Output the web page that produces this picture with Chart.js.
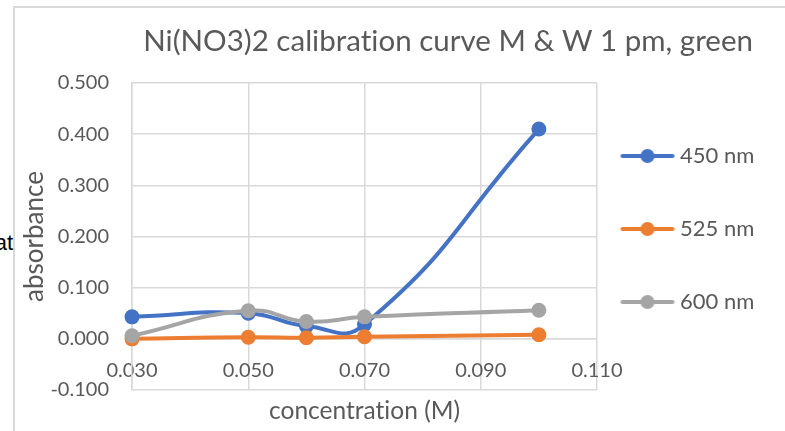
<!DOCTYPE html>
<html>
<head>
<meta charset="utf-8">
<title>Ni(NO3)2 calibration curve</title>
<script src="https://cdn.jsdelivr.net/npm/chart.js@4/dist/chart.umd.min.js"></script>
<style>
  html, body { margin: 0; padding: 0; background: #fff; overflow: hidden; }
  #wrap { position: relative; width: 785px; height: 431px; overflow: hidden; }
  #frame {
    position: absolute; left: 13px; top: 6px; width: 900px; height: 600px;
    border-left: 2px solid #d9d9d9; border-top: 2px solid #d9d9d9;
  }
  #side {
    position: absolute; right: 772px; top: 230px; line-height: 24px;
    font: 22px "Liberation Sans", Arial, sans-serif; color: #000; white-space: nowrap;
  }
  canvas { position: absolute; left: 0; top: 0; }
</style>
</head>
<body>
<div id="wrap">
  <div id="frame"></div>
  <div id="side">at</div>
  <canvas id="calChart" width="785" height="431"></canvas>
</div>
<script>
// measured absorbance per wavelength
const concentration = [0.03, 0.05, 0.06, 0.07, 0.10];
const abs450 = [0.043, 0.050, 0.025, 0.028, 0.410];
const abs525 = [0.000, 0.003, 0.002, 0.004, 0.008];
const abs600 = [0.006, 0.055, 0.034, 0.043, 0.056];
const seriesNames = ['450 nm', '525 nm', '600 nm'];
const xTicks = [0.03, 0.05, 0.07, 0.09, 0.11];
const yTicks = [-0.1, 0, 0.1, 0.2, 0.3, 0.4, 0.5];

const chartTitle = 'Ni(NO3)2 calibration curve M & W 1 pm, green';
const xTitle = 'concentration (M)';
const yTitle = 'absorbance';

const colors = ['#4472C4', '#ED7D31', '#A5A5A5'];
const textColor = '#595959';
const gridColor = '#d9d9d9';

const legendFont = 22;
const legendGap = 51;
const swatchBox = 21;

// line + marker sample for the legend, offset so the line ends just before the text
function legendSwatch(color) {
  const c = document.createElement('canvas');
  c.width = 84;
  c.height = 20;
  const g = c.getContext('2d');
  const end = c.width / 2 + swatchBox / 2 + legendFont / 2 - 5.5;
  const start = end - 54;
  g.strokeStyle = color;
  g.lineWidth = 4;
  g.lineCap = 'round';
  g.beginPath();
  g.moveTo(start + 2, 10);
  g.lineTo(end - 2, 10);
  g.stroke();
  g.fillStyle = color;
  g.beginPath();
  g.arc((start + end) / 2, 10, 7, 0, Math.PI * 2);
  g.fill();
  return c;
}

// keep "ti" etc. as separate letters, and let the legend text run to the canvas edge
const tweaks = {
  id: 'tweaks',
  afterLayout: chart => { chart.legend.right = chart.width; },
  beforeDraw: chart => { chart.ctx.letterSpacing = '0.01px'; }
};

Chart.defaults.font.family = 'Lato, "Noto Sans", sans-serif';
Chart.defaults.color = textColor;

const series = [abs450, abs525, abs600];
const swatches = colors.map(legendSwatch);

const ctx = document.getElementById('calChart').getContext('2d');
new Chart(ctx, {
  type: 'line',
  data: {
    datasets: series.map((vals, i) => ({
      label: seriesNames[i],
      data: concentration.map((x, j) => ({ x: x, y: vals[j] })),
      borderColor: colors[i],
      backgroundColor: colors[i],
      borderWidth: 4,
      borderCapStyle: 'round',
      borderJoinStyle: 'round',
      tension: 0.5,
      pointRadius: 7.5,
      pointHoverRadius: 7.5,
      pointBorderWidth: 0,
      order: series.length - i,
      clip: false
    }))
  },
  plugins: [tweaks],
  options: {
    responsive: false,
    animation: false,
    layout: { padding: { left: 15, right: 32, top: 0, bottom: 0 } },
    plugins: {
      title: {
        display: true,
        text: chartTitle,
        align: 'end',
        color: textColor,
        font: { size: 29.5, weight: 'normal', lineHeight: 1.2 },
        padding: { top: 23.8, bottom: 23.8 }
      },
      subtitle: {
        display: true,
        text: xTitle,
        position: 'bottom',
        fullSize: false,
        color: textColor,
        font: { size: 24.5, weight: 'normal', lineHeight: 1.2 },
        padding: { top: 6, bottom: 5.6 }
      },
      legend: {
        position: 'right',
        align: 'start',
        fullSize: false,
        maxWidth: 156,
        title: { display: true, text: '', font: { size: 11, lineHeight: 1 }, padding: 0 },
        labels: {
          usePointStyle: true,
          pointStyleWidth: swatchBox,
          padding: legendGap,
          color: textColor,
          font: { size: legendFont },
          generateLabels: chart => chart.data.datasets.map((ds, i) => ({
            text: ds.label,
            datasetIndex: i,
            pointStyle: swatches[i],
            fillStyle: ds.backgroundColor,
            strokeStyle: ds.borderColor,
            fontColor: textColor,
            lineWidth: 0,
            hidden: false
          }))
        }
      },
      tooltip: { enabled: false }
    },
    scales: {
      x: {
        type: 'linear',
        position: { y: 0 },
        min: 0.03,
        max: 0.11,
        afterBuildTicks: s => { s.ticks = xTicks.map(value => ({ value })); },
        afterFit: s => { s.height = 0; },
        grid: { color: gridColor, lineWidth: 1.5, drawTicks: false },
        border: { color: gridColor, width: 1.5 },
        ticks: {
          padding: 20,
          autoSkip: false,
          maxRotation: 0,
          color: textColor,
          font: { size: 20 },
          callback: v => v.toFixed(3)
        }
      },
      y: {
        type: 'linear',
        position: 'left',
        min: -0.1,
        max: 0.5,
        afterBuildTicks: s => { s.ticks = yTicks.map(value => ({ value })); },
        afterFit: s => { s.width = 117; },
        grid: { color: gridColor, lineWidth: 1.5, drawTicks: false },
        border: { color: gridColor, width: 1.5 },
        title: {
          display: true,
          text: yTitle,
          color: textColor,
          font: { size: 26, lineHeight: 1.2 },
          padding: { top: 4, bottom: 4 }
        },
        ticks: {
          padding: 23,
          color: textColor,
          font: { size: 20 },
          callback: v => v.toFixed(3)
        }
      }
    }
  }
});
</script>
</body>
</html>
